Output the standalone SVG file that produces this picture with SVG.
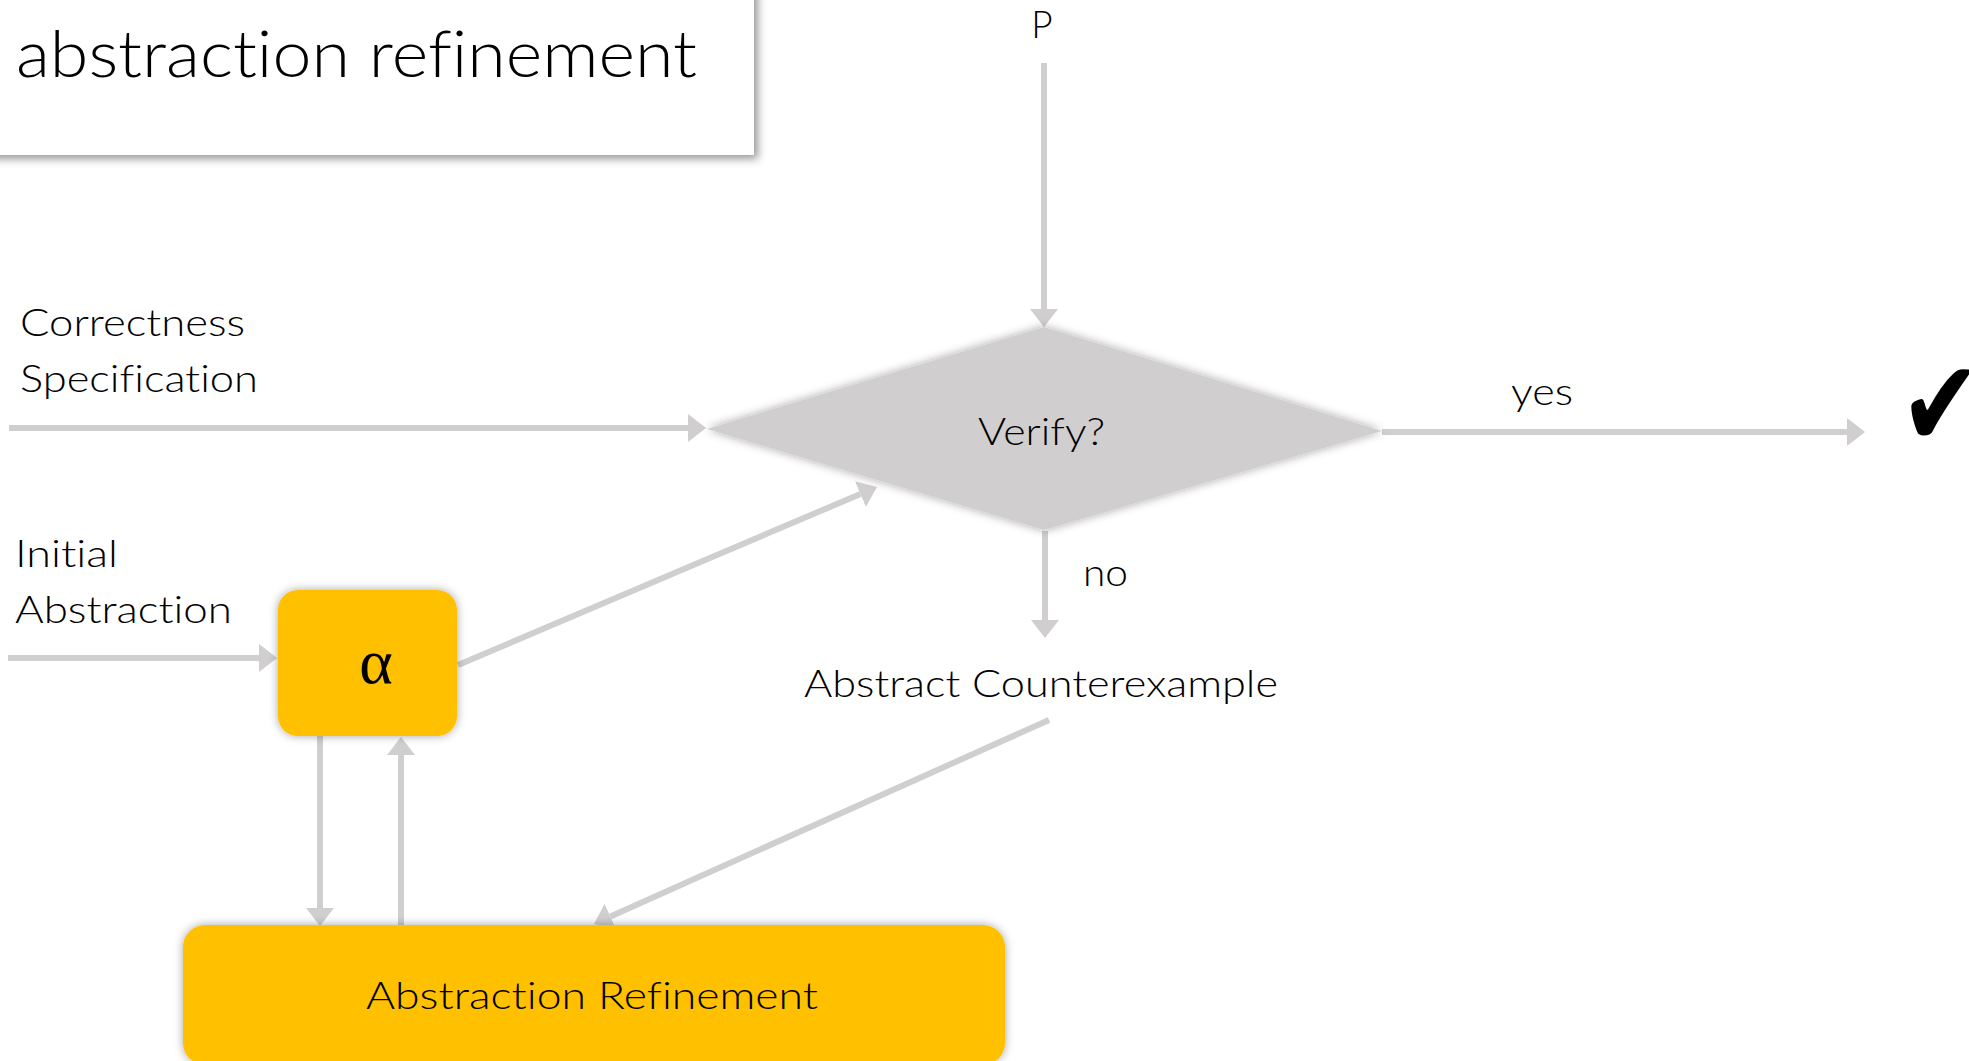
<svg xmlns="http://www.w3.org/2000/svg" width="1969" height="1061" viewBox="0 0 1969 1061">
  <style>
    .lbl { font-family: Lato, "Open Sans", "Liberation Sans", sans-serif; font-weight: 300; font-size: 37px; fill: #000; font-variant-ligatures: none; font-feature-settings: "liga" 0, "clig" 0; }
    .title { font-family: Lato, "Open Sans", "Liberation Sans", sans-serif; font-weight: 300; font-size: 66px; fill: #000; font-variant-ligatures: none; font-feature-settings: "liga" 0, "clig" 0; }
    .conn { stroke: #D0CECE; stroke-width: 6; fill: none; }
    .orange { fill: #FFC000; }
  </style>
  <defs>
    <marker id="arrow" markerUnits="userSpaceOnUse" markerWidth="18" markerHeight="28" refX="0" refY="14" orient="auto" viewBox="0 0 18 28">
      <path d="M0,0 L18,14 L0,28 Z" fill="#D0CECE"/>
    </marker>
    <filter id="soft" x="-20%" y="-30%" width="140%" height="160%">
      <feDropShadow dx="0" dy="0" stdDeviation="5" flood-color="#000" flood-opacity="0.35"/>
    </filter>
    <filter id="cast" x="-10%" y="-20%" width="130%" height="160%">
      <feDropShadow dx="4" dy="4" stdDeviation="4" flood-color="#000" flood-opacity="0.4"/>
    </filter>
  </defs>

  <rect width="1969" height="1061" fill="#FFFFFF"/>

  <!-- title panel -->
  <g id="title">
    <rect x="-20" y="-20" width="774" height="175" fill="#FFFFFF" filter="url(#cast)"/>
    <text class="title" x="16" y="77" textLength="681" lengthAdjust="spacingAndGlyphs">abstraction refinement</text>
  </g>

  <!-- connectors -->
  <g id="connectors" class="conn" marker-end="url(#arrow)">
    <line x1="1044" y1="63" x2="1044" y2="309"/>
    <line x1="9" y1="428" x2="688" y2="428"/>
    <line x1="1382" y1="432" x2="1847" y2="432"/>
    <line x1="1045" y1="531" x2="1045" y2="620"/>
    <line x1="1049" y1="720" x2="610.4" y2="916.6"/>
    <line x1="8" y1="658" x2="259" y2="658"/>
    <line x1="458" y1="665" x2="860.4" y2="494"/>
    <line x1="320" y1="736" x2="320" y2="908"/>
    <line x1="401" y1="925" x2="401" y2="755"/>
  </g>

  <!-- input labels -->
  <g id="input-p">
    <text class="lbl" x="1042" y="38" text-anchor="middle">P</text>
  </g>
  <g id="input-spec">
    <text class="lbl" x="20" y="336" textLength="225" lengthAdjust="spacingAndGlyphs">Correctness</text>
    <text class="lbl" x="20" y="392" textLength="238" lengthAdjust="spacingAndGlyphs">Specification</text>
  </g>
  <g id="input-initial">
    <text class="lbl" x="15" y="567" textLength="103" lengthAdjust="spacingAndGlyphs">Initial</text>
    <text class="lbl" x="15" y="623" textLength="217" lengthAdjust="spacingAndGlyphs">Abstraction</text>
  </g>

  <!-- decision -->
  <g id="verify">
    <polygon points="707,429 1044,327 1382,431 1044,530" fill="#D0CECE" filter="url(#soft)"/>
    <text class="lbl" x="978" y="445" textLength="127" lengthAdjust="spacingAndGlyphs">Verify?</text>
  </g>
  <g id="label-yes">
    <text class="lbl" x="1511" y="405" textLength="62" lengthAdjust="spacingAndGlyphs">yes</text>
  </g>
  <g id="label-no">
    <text class="lbl" x="1083" y="586" textLength="45" lengthAdjust="spacingAndGlyphs">no</text>
  </g>
  <g id="check">
    <text transform="translate(1900,446) scale(0.8,1)" x="0" y="0" font-family="'DejaVu Sans', sans-serif" font-size="122" fill="#000">✔</text>
  </g>

  <!-- counterexample -->
  <g id="counterexample">
    <text class="lbl" x="804" y="697" textLength="474" lengthAdjust="spacingAndGlyphs">Abstract Counterexample</text>
  </g>

  <!-- abstraction -->
  <g id="alpha">
    <rect class="orange" x="278" y="590" width="179" height="146" rx="20" ry="20" filter="url(#soft)"/>
    <text x="376" y="683" text-anchor="middle" font-family="'Liberation Serif', 'DejaVu Serif', serif" font-size="64" fill="#000">α</text>
  </g>

  <!-- refinement -->
  <g id="refinement">
    <rect class="orange" x="183" y="925" width="822" height="140" rx="22" ry="22" filter="url(#soft)"/>
    <text class="lbl" x="366" y="1009" textLength="452" lengthAdjust="spacingAndGlyphs">Abstraction Refinement</text>
  </g>
</svg>
